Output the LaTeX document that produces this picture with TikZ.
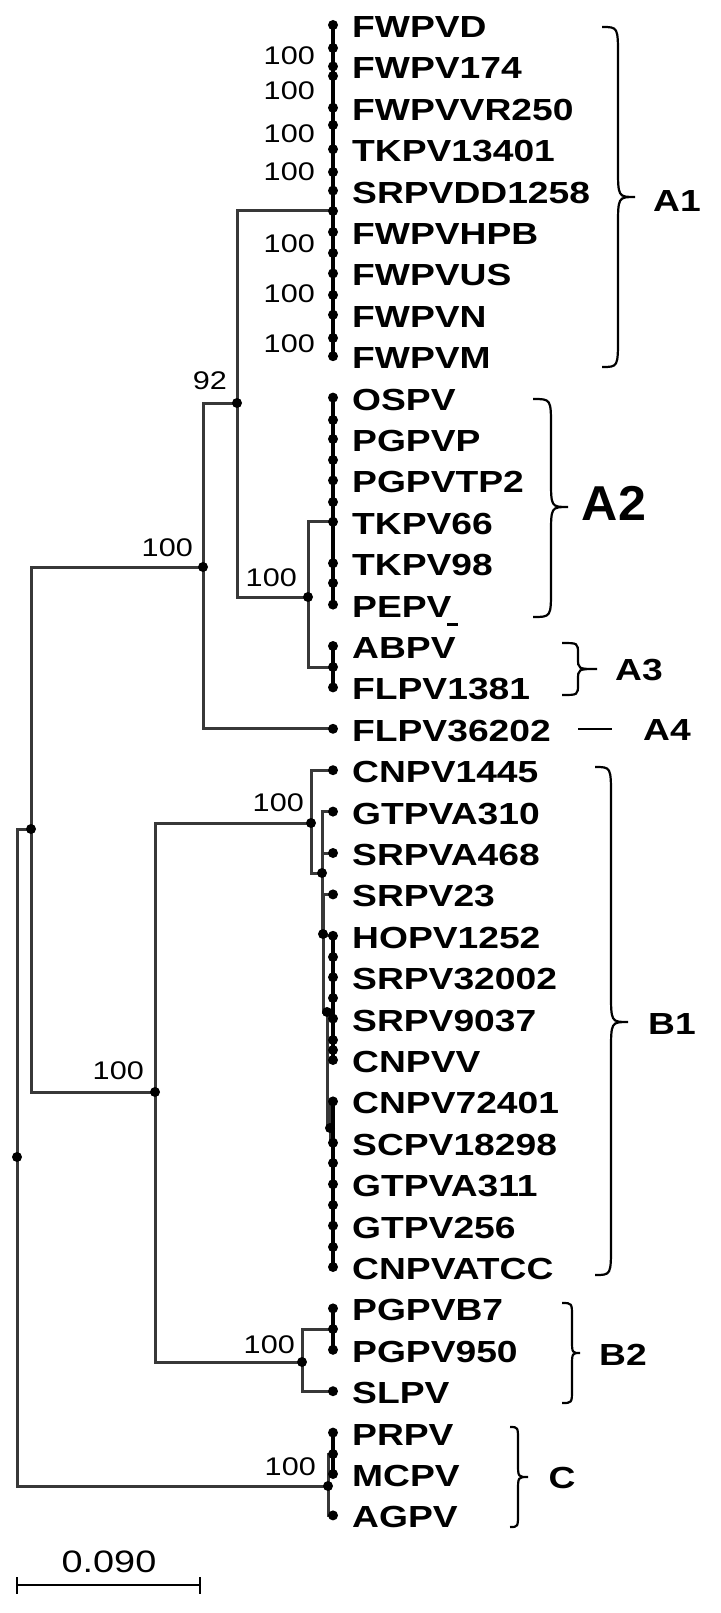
\documentclass[tikz,border=0pt]{standalone}
\usepackage{fontspec}
\newfontfamily\labfont[FakeStretch=1.22]{Liberation Sans}
\newfontfamily\bsfont[FakeStretch=1.2]{Liberation Sans}
\newfontfamily\scfont[FakeStretch=1.22]{Liberation Sans}
\begin{document}
\begin{tikzpicture}[x=1pt,y=-1pt,
  edge/.style={draw=black!78, line width=3pt},
  leafline/.style={draw=black, line width=3.2pt},
  dot/.style={fill=black, circle, inner sep=0pt, minimum size=10pt},
  leaflab/.style={anchor=west, inner sep=0pt, font=\labfont\bfseries\fontsize{30.5}{30.5}\selectfont},
  boot/.style={anchor=east, inner sep=0pt, font=\bsfont\fontsize{25.5}{25.5}\selectfont},
  clade/.style={inner sep=0pt, font=\labfont\bfseries\fontsize{30.5}{30.5}\selectfont},
  bracestyle/.style={draw=black, line width=2.2pt},
]
\useasboundingbox (0,0) rectangle (720,1613);
% leaves
\foreach \i in {0,...,36} {\coordinate (L\i) at (333,{25+41.4*\i});}
% internal nodes
\coordinate (R0) at (17,1157);
\coordinate (R1) at (31,829);
\coordinate (nA) at (203,567);
\coordinate (n92) at (237,403);
\coordinate (nA1) at (333,211);
\coordinate (nA23) at (308,597);
\coordinate (nA3) at (333,667);
\coordinate (nB) at (155,1092);
\coordinate (nB1) at (311,823);
\coordinate (n1) at (322,873);
\coordinate (n2) at (323,934);
\coordinate (n3) at (327,1012);
\coordinate (n4) at (330,1128);
\coordinate (nB2) at (302,1362);
\coordinate (nB2a) at (333,1329);
\coordinate (nC) at (328,1486);
\coordinate (nPM) at (333,1454);
% branches
\draw[edge] (R0) |- (R1);  \draw[edge] (R0) |- (nC);
\draw[edge] (R1) |- (nA);  \draw[edge] (R1) |- (nB);
\draw[edge] (nA) |- (n92); \draw[edge] (nA) |- (L17);
\draw[edge] (n92) |- (nA1); \draw[edge] (n92) |- (nA23);
\draw[edge] (nA23) |- (L12); \draw[edge] (nA23) |- (nA3);
\draw[edge] (nB) |- (nB1); \draw[edge] (nB) |- (nB2);
\draw[edge] (nB1) |- (L18); \draw[edge] (nB1) |- (n1);
\draw[edge] (n1) |- (L19); \draw[edge] (n1) |- (L20); \draw[edge] (n1) |- (n2);
\draw[edge] (n2) |- (L21); \draw[edge] (n2) |- (L22); \draw[edge] (n2) |- (n3);
\draw[edge] (n3) |- (L24); \draw[edge] (n3) |- (n4);
\draw[edge] (n4) |- (L26); \draw[edge] (n4) |- (L27);
\draw[edge] (nB2) |- (nB2a); \draw[edge] (nB2) |- (L33);
\draw[edge] (nC) |- (nPM); \draw[edge] (nC) |- (L36);
% leaf lines
\draw[leafline] (L0) -- (L8);
\draw[leafline] (L9) -- (L14);
\draw[leafline] (L15) -- (L16);
\draw[leafline] (L22) -- (L25);
\draw[leafline] (L26) -- (L30);
\draw[leafline] (L31) -- (L32);
\draw[leafline] (L34) -- (L35);
% leaf dots
\foreach \i in {0,...,36} {\node[dot] (D\i) at (L\i) {};}
% internal dots
\foreach \y [count=\k] in {48,76,125,172,253,295,338} {\node[dot] (a1d\k) at (333,\y) {};}
\foreach \y [count=\k] in {420,460,502,583} {\node[dot] (a2d\k) at (333,\y) {};}
\foreach \y [count=\k] in {957,998,1040,1050,1163,1205,1247} {\node[dot] (b1d\k) at (333,\y) {};}
\foreach \n in {R0,R1,nA,n92,nA1,nA23,nA3,nB,nB1,n1,n2,n3,n4,nB2,nB2a,nC,nPM} {\node[dot] (d\n) at (\n) {};}
% leaf labels
\foreach \i/\t in {0/FWPVD,1/FWPV174,2/FWPVVR250,3/TKPV13401,4/SRPVDD1258,5/FWPVHPB,6/FWPVUS,7/FWPVN,8/FWPVM,
  9/OSPV,10/PGPVP,11/PGPVTP2,12/TKPV66,13/TKPV98,14/PEPV,15/ABPV,16/FLPV1381,17/FLPV36202,
  18/CNPV1445,19/GTPVA310,20/SRPVA468,21/SRPV23,22/HOPV1252,23/SRPV32002,24/SRPV9037,25/CNPVV,
  26/CNPV72401,27/SCPV18298,28/GTPVA311,29/GTPV256,30/CNPVATCC,31/PGPVB7,32/PGPV950,33/SLPV,
  34/PRPV,35/MCPV,36/AGPV}
  {\node[leaflab] (T\i) at ([xshift=19pt,yshift=-2pt]L\i) {\t};}
\coordinate (pe1) at (447,624); \coordinate (pe2) at (458,624);
\draw[line width=3pt] (pe1) -- (pe2);
% bootstrap values
\foreach \x/\y [count=\k] in {315/56,315/91,315/134,315/172,315/244,315/294,315/344,
  193/548,297/578,304/803,144/1071,295/1345,316/1467}
  {\node[boot] (bs\k) at (\x,\y) {100};}
\node[boot] (bs92) at (227,381) {92};
% braces
\newcommand\clbrace[7]{\draw[bracestyle] (#1,#4) .. controls (#2,#4) and (#2,#4) .. (#2,#4+#7)
  -- (#2,#5-#7) .. controls (#2,#5) and (#2,#5) .. (#3,#5)
  .. controls (#2,#5) and (#2,#5) .. (#2,#5+#7)
  -- (#2,#6-#7) .. controls (#2,#6) and (#2,#6) .. (#1,#6);}
\clbrace{602}{618}{635}{27}{197}{367}{30}
\clbrace{533}{551}{568}{399}{507}{617}{28}
\clbrace{562}{578}{597}{643}{669}{695}{11}
\clbrace{595}{611}{628}{767}{1022}{1275}{30}
\clbrace{562}{572}{580}{1303}{1353}{1403}{14}
\clbrace{510}{518}{528}{1427}{1477}{1527}{14}
\coordinate (a4a) at (578,729); \coordinate (a4b) at (612,729);
\draw[line width=1.2pt] (a4a) -- (a4b);
\node[clade] (cA1) at (677,201) {A1};
\node[inner sep=0pt, font=\labfont\bfseries\fontsize{49}{49}\selectfont, xscale=0.84, transform shape] (cA2) at (614,503) {A2};
\node[clade] (cA3) at (639,670) {A3};
\node[clade] (cA4) at (667,730) {A4};
\node[clade] (cB1) at (672,1024) {B1};
\node[clade] (cB2) at (623,1355) {B2};
\node[clade] (cC) at (562,1478) {C};
% scale bar
\coordinate (s0) at (17,1585); \coordinate (s1) at (200,1585);
\draw[line width=2.5pt] (s0) -- (s1);
\draw[line width=2.5pt] ([yshift=8pt]s0) -- ([yshift=-9pt]s0);
\draw[line width=2.5pt] ([yshift=8pt]s1) -- ([yshift=-9pt]s1);
\node[inner sep=0pt, font=\scfont\fontsize{31}{31}\selectfont] (sc) at (109,1562) {0.090};
\end{tikzpicture}
\end{document}
